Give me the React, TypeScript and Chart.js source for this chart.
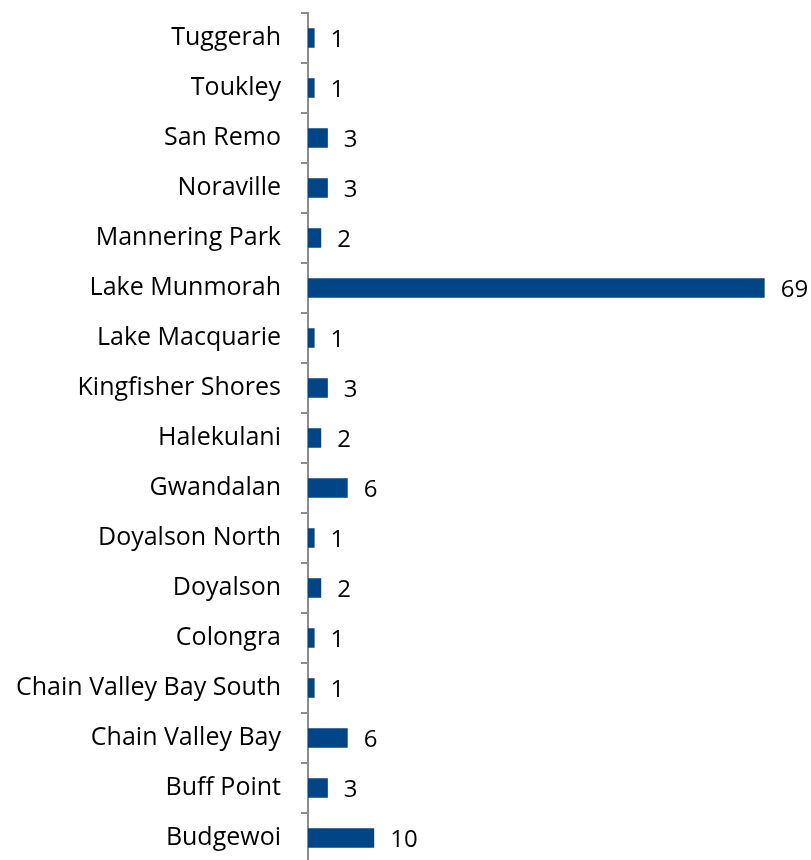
import React, { useEffect, useRef } from "react";
import { Chart, registerables } from "chart.js";

Chart.register(...registerables);

const categories = [
  "Tuggerah",
  "Toukley",
  "San Remo",
  "Noraville",
  "Mannering Park",
  "Lake Munmorah",
  "Lake Macquarie",
  "Kingfisher Shores",
  "Halekulani",
  "Gwandalan",
  "Doyalson North",
  "Doyalson",
  "Colongra",
  "Chain Valley Bay South",
  "Chain Valley Bay",
  "Buff Point",
  "Budgewoi",
];

const values = [1, 1, 3, 3, 2, 69, 1, 3, 2, 6, 1, 2, 1, 1, 6, 3, 10];

const FONT = "'Open Sans', 'Noto Sans', sans-serif";

const valueLabels = {
  id: "valueLabels",
  afterDatasetsDraw(chart: any) {
    const ctx = chart.ctx;
    const meta = chart.getDatasetMeta(0);
    ctx.save();
    ctx.font = `24px ${FONT}`;
    ctx.fillStyle = "#000";
    ctx.textAlign = "left";
    ctx.textBaseline = "middle";
    meta.data.forEach((bar: any, i: number) => {
      ctx.fillText(String(values[i]), bar.x + 16, bar.y + 2);
    });
    ctx.restore();
  },
};

export default function App() {
  const ref = useRef<HTMLCanvasElement | null>(null);
  useEffect(() => {
    if (!ref.current) return;
    const chart = new Chart(ref.current, {
      type: "bar",
      data: {
        labels: categories,
        datasets: [
          {
            data: values,
            backgroundColor: "#004586",
            borderWidth: 0,
            barPercentage: 0.78,
            categoryPercentage: 0.5,
          },
        ],
      },
      options: {
        indexAxis: "y",
        animation: false,
        responsive: false,
        maintainAspectRatio: false,
        layout: { padding: { top: 13, bottom: 0, left: 0, right: 0 } },
        plugins: {
          legend: { display: false },
          tooltip: { enabled: false },
        },
        scales: {
          x: {
            display: false,
            min: 0,
            max: 76,
          },
          y: {
            afterFit(scale: any) {
              scale.width = 308;
              scale.paddingTop = 0;
              scale.paddingBottom = 0;
            },
            grid: {
              offset: true,
              drawOnChartArea: false,
              drawTicks: true,
              tickLength: 7,
              color: "#8c8c8c",
              lineWidth: 2,
            },
            border: { display: true, color: "#8c8c8c", width: 2 },
            ticks: {
              padding: 20,
              color: "#000",
              font: { family: FONT, size: 25 },
              autoSkip: false,
            },
          },
        },
      },
      plugins: [valueLabels],
    });
    return () => chart.destroy();
  }, []);
  return (
    <div style={{ position: "fixed", left: 0, top: 0, width: 811, height: 863 }}>
      <canvas ref={ref} width={811} height={863} style={{ display: "block" }} />
    </div>
  );
}
